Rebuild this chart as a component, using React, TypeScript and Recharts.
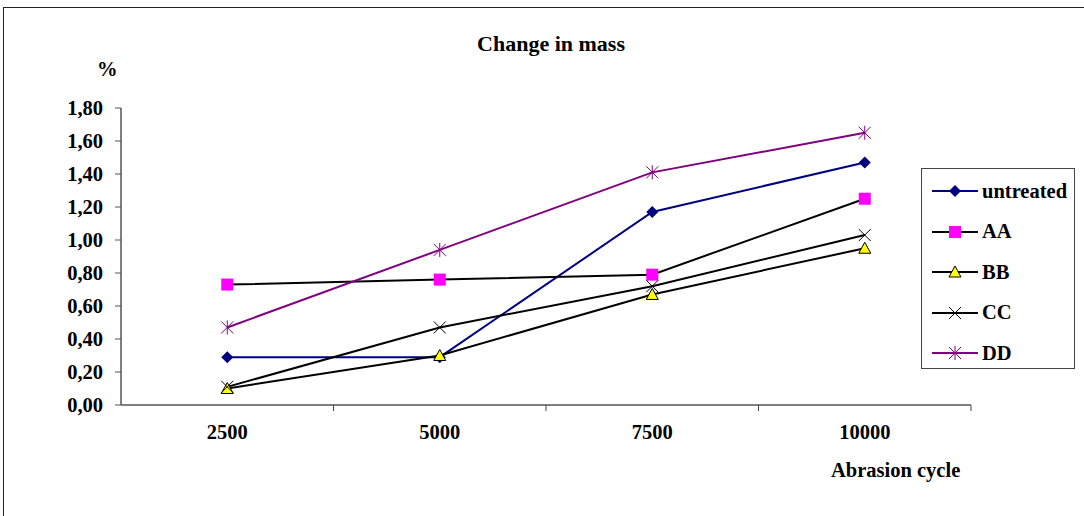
import { LineChart, Line, XAxis, YAxis } from 'recharts';

const cycles = ['2500', '5000', '7500', '10000'];
const untreated = [0.29, 0.29, 1.17, 1.47];
const aa = [0.73, 0.76, 0.79, 1.25];
const bb = [0.1, 0.3, 0.67, 0.95];
const cc = [0.11, 0.47, 0.72, 1.03];
const dd = [0.47, 0.94, 1.41, 1.65];
const yTicks = [0, 0.2, 0.4, 0.6, 0.8, 1.0, 1.2, 1.4, 1.6, 1.8];

const data = cycles.map((c, i) => ({
  cycle: c,
  untreated: untreated[i],
  AA: aa[i],
  BB: bb[i],
  CC: cc[i],
  DD: dd[i],
}));

const FONT = '"Liberation Serif", "Times New Roman", serif';
const FS = 20.5;

type Shape = 'diamond' | 'square' | 'triangle' | 'x' | 'star';

function Marker({ cx, cy, shape }: { cx: number; cy: number; shape: Shape }) {
  if (cx == null || cy == null) return null;
  if (shape === 'diamond')
    return <polygon points={`${cx},${cy - 6} ${cx + 6},${cy} ${cx},${cy + 6} ${cx - 6},${cy}`} fill="#000080" />;
  if (shape === 'square')
    return <rect x={cx - 6} y={cy - 6} width={12} height={12} fill="#FF00FF" />;
  if (shape === 'triangle')
    return (
      <polygon
        points={`${cx},${cy - 6} ${cx + 6},${cy + 5} ${cx - 6},${cy + 5}`}
        fill="#FFFF00"
        stroke="#000"
        strokeWidth={1}
      />
    );
  if (shape === 'x')
    return (
      <g stroke="#000" strokeWidth={1}>
        <line x1={cx - 6} y1={cy - 6} x2={cx + 6} y2={cy + 6} />
        <line x1={cx - 6} y1={cy + 6} x2={cx + 6} y2={cy - 6} />
      </g>
    );
  return (
    <g stroke="#800080" strokeWidth={1}>
      <line x1={cx - 6} y1={cy - 6} x2={cx + 6} y2={cy + 6} />
      <line x1={cx - 6} y1={cy + 6} x2={cx + 6} y2={cy - 6} />
      <line x1={cx} y1={cy - 7} x2={cx} y2={cy + 7} />
    </g>
  );
}

const series: { key: string; color: string; shape: Shape }[] = [
  { key: 'untreated', color: '#000080', shape: 'diamond' },
  { key: 'AA', color: '#000000', shape: 'square' },
  { key: 'BB', color: '#000000', shape: 'triangle' },
  { key: 'CC', color: '#000000', shape: 'x' },
  { key: 'DD', color: '#800080', shape: 'star' },
];

function XTick(props: any) {
  const { x, y, payload } = props;
  const off = payload && payload.offset ? payload.offset : 0;
  return (
    <g>
      {off > 0 && <line x1={x + off} y1={y - 8} x2={x + off} y2={y - 2} stroke="#444" />}
      <text x={x} y={y + 26} textAnchor="middle" fontFamily={FONT} fontWeight="bold" fontSize={FS} fill="#000">
        {payload.value}
      </text>
    </g>
  );
}

export default function App() {
  return (
    <div style={{ position: 'absolute', left: 0, top: 0, width: 1084, height: 516, overflow: 'hidden', background: '#fff' }}>
      <div
        style={{
          position: 'absolute',
          left: 3,
          top: 7,
          width: 1100,
          height: 530,
          border: '1.5px solid #222',
          boxSizing: 'border-box',
        }}
      />
      <LineChart
        width={1084}
        height={516}
        data={data}
        margin={{ top: 108, right: 113, bottom: 81, left: 0 }}
        style={{ position: 'absolute', left: 0, top: 0 }}
      >
        <XAxis
          dataKey="cycle"
          scale="band"
          height={30}
          axisLine={{ stroke: '#555', strokeWidth: 1.5 }}
          tickLine={false}
          tick={<XTick />}
          interval={0}
        />
        <YAxis
          width={121}
          domain={[0, 1.8]}
          ticks={yTicks}
          interval={0}
          axisLine={{ stroke: '#555', strokeWidth: 1.5 }}
          tickLine={{ stroke: '#555' }}
          tickSize={6}
          tickMargin={12}
          tickFormatter={(v: number) => v.toFixed(2).replace('.', ',')}
          tick={{ fontFamily: FONT, fontWeight: 'bold', fontSize: FS, fill: '#000' }}
        />
        {series.map((s) => (
          <Line
            key={s.key}
            dataKey={s.key}
            type="linear"
            stroke={s.color}
            strokeWidth={2}
            isAnimationActive={false}
            dot={(p: any) => <Marker key={`${s.key}-${p.index}`} cx={p.cx} cy={p.cy} shape={s.shape} />}
            activeDot={false}
          />
        ))}
      </LineChart>
      <div
        style={{
          position: 'absolute',
          left: 0,
          top: 31,
          width: 1102,
          textAlign: 'center',
          fontFamily: FONT,
          fontWeight: 'bold',
          fontSize: 22,
        }}
      >
        Change in mass
      </div>
      <div style={{ position: 'absolute', left: 97, top: 58, fontFamily: FONT, fontWeight: 'bold', fontSize: FS }}>%</div>
      <div style={{ position: 'absolute', left: 831, top: 459, fontFamily: FONT, fontWeight: 'bold', fontSize: FS }}>
        Abrasion cycle
      </div>
      <div
        style={{
          position: 'absolute',
          left: 921,
          top: 168,
          width: 154,
          height: 201,
          border: '1.5px solid #444',
          boxSizing: 'border-box',
          paddingTop: 2,
        }}
      >
        {series.map((s) => (
          <div key={s.key} style={{ display: 'flex', alignItems: 'center', height: 40.5 }}>
            <svg width={48} height={20} style={{ marginLeft: 10 }}>
              <line x1={0} y1={10} x2={46} y2={10} stroke={s.color} strokeWidth={2} />
              <Marker cx={23} cy={10} shape={s.shape} />
            </svg>
            <span style={{ fontFamily: FONT, fontWeight: 'bold', fontSize: FS, marginLeft: 2 }}>{s.key}</span>
          </div>
        ))}
      </div>
    </div>
  );
}
